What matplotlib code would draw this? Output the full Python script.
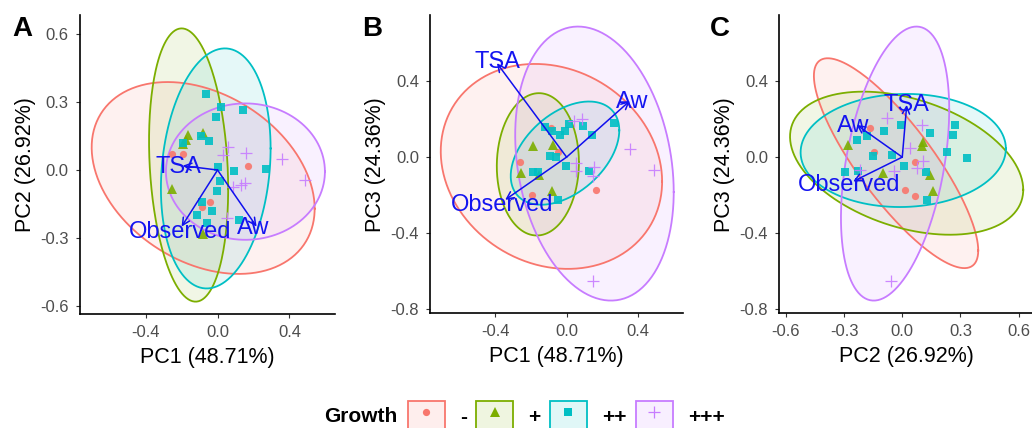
import numpy as np
import matplotlib
matplotlib.use("Agg")
import matplotlib.pyplot as plt
from matplotlib.lines import Line2D
from matplotlib.patches import Patch
from matplotlib.colors import to_rgba

plt.rcParams['font.family'] = ['Liberation Sans', 'DejaVu Sans']
plt.rcParams['axes.unicode_minus'] = False

# groups (legend order)
groups = ['-', '+', '++', '+++']
colors = ['#F8766D', '#7CAE00', '#00BFC4', '#C77CFF']
markers = ['o', '^', 's', '+']
msizes = [5.2, 6.6, 5.8, 8.5]

# ---- panel A: PC1 vs PC2 ----
a_x = [-0.256, -0.191, 0.170, -0.043, -0.089,
       -0.163, -0.176, -0.194, -0.080, -0.256, -0.080,
       -0.067, 0.017, 0.143, -0.011, -0.094, -0.046, -0.191, 0.000, 0.093,
       0.267, 0.013, -0.002, -0.089, -0.033, -0.117, -0.057, 0.120,
       0.056, 0.031, 0.157, 0.361, 0.485, 0.152, 0.133, 0.087, 0.050]
a_y = [0.070, 0.070, 0.018, -0.139, -0.161,
       0.154, 0.132, 0.114, 0.164, -0.085, -0.280,
       0.334, 0.279, 0.264, 0.232, 0.150, 0.129, 0.120, 0.012, -0.003,
       0.003, -0.048, -0.091, -0.139, -0.179, -0.198, -0.232, -0.220,
       0.103, 0.066, 0.076, 0.047, -0.044, -0.056, -0.066, -0.073, -0.213]
a_g = [0] * 5 + [1] * 6 + [2] * 17 + [3] * 9

# ---- panel B: PC1 vs PC3 ----
b_x = [-0.085, -0.261, -0.048, -0.193, 0.165,
       -0.191, -0.076, -0.256, -0.156, -0.080,
       -0.122, -0.080, -0.039, 0.013, 0.091, 0.141, 0.263, -0.091, -0.061,
       -0.002, 0.128, -0.187, -0.159, -0.048, -0.009,
       0.044, 0.085, 0.356, 0.489, 0.054, 0.156, 0.050, 0.146, 0.146]
b_y = [0.153, -0.026, 0.025, -0.202, -0.172,
       0.056, 0.065, -0.084, -0.093, -0.181,
       0.161, 0.140, 0.118, 0.175, 0.165, 0.118, 0.182, 0.004, 0.000,
       -0.046, -0.075, -0.081, -0.081, -0.225, 0.135,
       0.188, 0.202, 0.044, -0.070, -0.032, -0.053, -0.075, -0.102, -0.654]
b_g = [0] * 5 + [1] * 5 + [2] * 15 + [3] * 9

# ---- panel C: PC2 vs PC3 ----
c_x = [-0.167, -0.144, 0.065, 0.014, 0.065,
       -0.282, 0.108, 0.100, -0.098, 0.143, 0.160,
       -0.008, -0.093, -0.235, -0.184, 0.143, 0.272, 0.260, 0.229, 0.332,
       -0.149, -0.051, 0.010, -0.295, -0.227, 0.122, 0.129,
       -0.081, 0.103, 0.040, 0.108, 0.074, -0.043, -0.218, -0.060]
c_y = [0.153, 0.025, -0.026, -0.172, -0.204,
       0.065, 0.082, 0.056, -0.084, -0.093, -0.181,
       0.170, 0.135, 0.091, 0.109, 0.126, 0.170, 0.118, 0.025, -0.005,
       0.007, 0.012, -0.046, -0.079, -0.075, -0.081, -0.225,
       0.205, 0.170, 0.047, -0.023, -0.058, -0.075, -0.067, -0.654]
c_g = [0] * 5 + [1] * 6 + [2] * 16 + [3] * 8

# ellipses per group: (centre x, centre y, half x-extent, half y-extent, y offset at rightmost point)
ell_a = [(-0.080, -0.035, 0.620, 0.422, -0.135),
         (-0.161, 0.022, 0.220, 0.601, -0.106),
         (-0.010, 0.007, 0.305, 0.528, 0.088),
         (0.155, -0.007, 0.442, 0.300, 0.000)]
ell_b = [(-0.085, -0.049, 0.620, 0.540, -0.080),
         (-0.161, -0.038, 0.230, 0.375, 0.010),
         (-0.009, 0.021, 0.304, 0.272, 0.120),
         (0.156, -0.034, 0.444, 0.722, -0.150)]
ell_c = [(-0.032, -0.032, 0.4235, 0.553, -0.460),
         (0.0225, -0.032, 0.601, 0.377, -0.140),
         (0.005, 0.035, 0.529, 0.298, 0.010),
         (-0.037, -0.034, 0.279, 0.722, 0.285)]

# variable loadings (arrow tips) and label spots
var_names = ['TSA', 'Observed', 'Aw']
load_a_x = [-0.194, -0.200, 0.217]
load_a_y = [0.019, -0.249, -0.249]
lab_a_x = [-0.220, -0.207, 0.198]
lab_a_y = [0.015, -0.274, -0.257]
load_b_x = [-0.390, -0.344, 0.354]
load_b_y = [0.495, -0.225, 0.296]
lab_b_x = [-0.390, -0.360, 0.368]
lab_b_y = [0.503, -0.251, 0.293]
load_c_x = [0.023, -0.253, -0.235]
load_c_y = [0.275, -0.128, 0.170]
lab_c_x = [0.019, -0.273, -0.252]
lab_c_y = [0.275, -0.146, 0.165]


def ellipse_xy(cx, cy, rx, ry, yr, n=240):
    t = np.linspace(0, 2 * np.pi, n)
    x = cx + rx * np.cos(t)
    y = cy + yr * np.cos(t) + np.sqrt(ry ** 2 - yr ** 2) * np.sin(t)
    return x, y


def draw_panel(ax, xs, ys, gs, ells, lx, ly, tx, ty):
    # ellipses
    for i, e in enumerate(ells):
        ex, ey = ellipse_xy(*e)
        ax.fill(ex, ey, facecolor=to_rgba(colors[i], 0.1), edgecolor='none', zorder=1)
        ax.plot(ex, ey, color=colors[i], lw=1.3, zorder=2)
    # points
    xs = np.array(xs)
    ys = np.array(ys)
    gs = np.array(gs)
    for i in range(len(groups)):
        m = gs == i
        ax.plot(xs[m], ys[m], ls='none', marker=markers[i], ms=msizes[i],
                color=colors[i], mew=0.9 if markers[i] == '+' else 0,
                alpha=0.9, zorder=3)
    # loadings
    for k in range(len(var_names)):
        ax.annotate('', xy=(lx[k], ly[k]), xytext=(0, 0),
                    arrowprops=dict(arrowstyle='->', color='#1010EE', lw=1.1,
                                    mutation_scale=13, shrinkA=0, shrinkB=0),
                    zorder=4)
        ax.text(tx[k], ty[k], var_names[k], color='#1414F0', fontsize=17,
                ha='center', va='center', zorder=5)


def style_axes(ax, xlim, ylim, xticks, yticks, xlabel, ylabel):
    ax.set_xlim(*xlim)
    ax.set_ylim(*ylim)
    ax.set_xticks(xticks)
    ax.set_yticks(yticks)
    ax.set_xticklabels(['%.1f' % v for v in xticks])
    ax.set_yticklabels(['%.1f' % v for v in yticks])
    for s in ['top', 'right']:
        ax.spines[s].set_visible(False)
    for s in ['left', 'bottom']:
        ax.spines[s].set_linewidth(1.2)
        ax.spines[s].set_color('black')
    ax.tick_params(direction='out', length=3, width=0.8, color='#333333',
                   labelcolor='#4D4D4D', labelsize=12, pad=5)
    ax.set_xlabel(xlabel, fontsize=15.5, color='black', labelpad=4.5)
    ax.set_ylabel(ylabel, fontsize=15.5, color='black', labelpad=3)


pc1_lim = (-0.765, 0.653)
pc2_lim = (-0.634, 0.682)
pc3_lim = (-0.823, 0.749)

fig = plt.figure(figsize=(10.32, 4.28), dpi=100)

ax_a = fig.add_axes([0.0775, 0.266, 0.2471, 0.699])
ax_b = fig.add_axes([0.4167, 0.268, 0.2453, 0.697])
ax_c = fig.add_axes([0.7551, 0.268, 0.2474, 0.697])

draw_panel(ax_a, a_x, a_y, a_g, ell_a, load_a_x, load_a_y, lab_a_x, lab_a_y)
style_axes(ax_a, pc1_lim, pc2_lim, [-0.4, 0.0, 0.4], [-0.6, -0.3, 0.0, 0.3, 0.6],
           'PC1 (48.71%)', 'PC2 (26.92%)')

draw_panel(ax_b, b_x, b_y, b_g, ell_b, load_b_x, load_b_y, lab_b_x, lab_b_y)
style_axes(ax_b, pc1_lim, pc3_lim, [-0.4, 0.0, 0.4], [-0.8, -0.4, 0.0, 0.4],
           'PC1 (48.71%)', 'PC3 (24.36%)')

draw_panel(ax_c, c_x, c_y, c_g, ell_c, load_c_x, load_c_y, lab_c_x, lab_c_y)
style_axes(ax_c, pc2_lim, pc3_lim, [-0.6, -0.3, 0.0, 0.3, 0.6], [-0.8, -0.4, 0.0, 0.4],
           'PC2 (26.92%)', 'PC3 (24.36%)')

# panel letters
for x, letter in [(0.0116, 'A'), (0.351, 'B'), (0.688, 'C')]:
    fig.text(x, 0.962, letter, fontsize=20, fontweight='bold', ha='left', va='top')

# legend
fig.text(0.385, 0.028, 'Growth', fontsize=15, fontweight='bold', ha='right', va='center')
handles = []
for i in range(len(groups)):
    box = Patch(facecolor=to_rgba(colors[i], 0.12), edgecolor=colors[i], lw=1.3)
    mk = Line2D([], [], ls='none', marker=markers[i], ms=msizes[i], color=colors[i],
                mew=0.9 if markers[i] == '+' else 0)
    handles.append((box, mk))
fig.legend(handles, groups, ncol=4, loc='center left', bbox_to_anchor=(0.395, 0.027),
           frameon=False, borderpad=0, borderaxespad=0, handlelength=1.78,
           handleheight=1.9, handletextpad=0.72, columnspacing=0.45,
           prop={'weight': 'bold', 'size': 15})

fig.savefig('out.png', dpi=100)
